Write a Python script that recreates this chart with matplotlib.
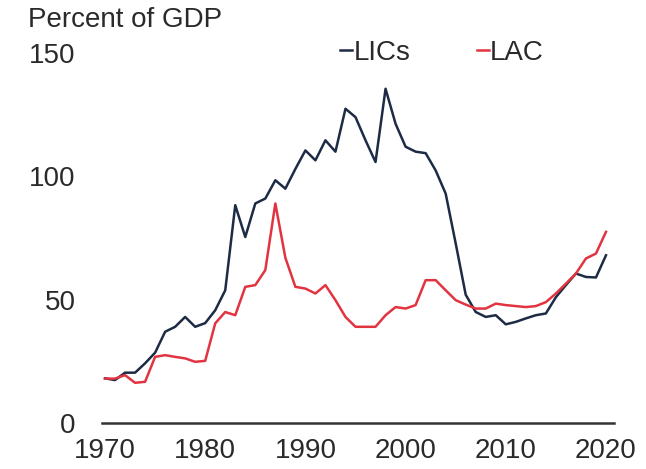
import matplotlib
matplotlib.use("Agg")
import matplotlib.pyplot as plt
import numpy as np

years = np.arange(1970, 2021)

# debt, percent of GDP
lics = [18.1, 17.4, 20.4, 20.4, 24.2, 28.5, 37.0, 39.0, 43.0, 39.0,
        40.5, 45.7, 53.8, 88.3, 75.4, 89.0, 91.0, 98.4, 95.0, 103.0,
        110.5, 106.5, 114.6, 110.0, 127.4, 124.0, 114.6, 105.8, 135.5, 121.3,
        112.0, 110.0, 109.4, 102.4, 93.0, 72.8, 52.0, 45.0, 43.0, 43.7,
        40.0, 41.0, 42.4, 43.7, 44.4, 51.0, 55.9, 60.6, 59.2, 59.0,
        68.0]
lac = [18.0, 18.0, 19.4, 16.3, 16.7, 26.8, 27.5, 26.8, 26.2, 24.8,
       25.2, 40.4, 45.0, 43.7, 55.2, 55.9, 62.0, 89.0, 67.0, 55.2,
       54.5, 52.5, 55.9, 49.8, 43.0, 39.0, 39.0, 39.0, 43.7, 47.0,
       46.4, 47.8, 57.9, 57.9, 53.8, 49.8, 48.0, 46.4, 46.4, 48.4,
       47.8, 47.4, 47.0, 47.4, 49.0, 52.5, 56.5, 60.6, 66.7, 68.7,
       77.5]

xticks = [1970, 1980, 1990, 2000, 2010, 2020]
yticks = [0, 50, 100, 150]

plt.rcParams['font.family'] = ['Liberation Sans', 'DejaVu Sans']
txt = '#2a2a2a'
fs = 20

fig = plt.figure(figsize=(6.46, 4.69), dpi=100)
ax = fig.add_axes([102/646, 1 - 423/469, (614 - 102)/646, (423 - 53)/469])

ax.plot(years, lics, color='#1e2b45', lw=1.8, label='LICs', clip_on=False)
ax.plot(years, lac, color='#e23440', lw=1.8, label='LAC', clip_on=False)

ax.set_xlim(1969.7, 2020.8)
ax.set_ylim(0, 150)
ax.set_xticks(xticks)
ax.set_yticks(yticks)
ax.tick_params(axis='both', length=0, labelsize=fs, colors=txt)
ax.tick_params(axis='x', pad=11)
ax.tick_params(axis='y', pad=19)

for s in ['top', 'right', 'left']:
    ax.spines[s].set_visible(False)
ax.spines['bottom'].set_color('#333333')
ax.spines['bottom'].set_linewidth(1.8)

fig.text(28/646, 1 - 20/469, 'Percent of GDP', fontsize=fs, color=txt,
         ha='left', va='center')

leg = ax.legend(loc='center left', bbox_to_anchor=((340 - 102)/512, 1.0), ncol=2,
                frameon=False, fontsize=fs, handlelength=0.43,
                handletextpad=0.05, columnspacing=2.4,
                borderpad=0, borderaxespad=0)
for t in leg.get_texts():
    t.set_color(txt)

fig.savefig('out.png', dpi=100)
